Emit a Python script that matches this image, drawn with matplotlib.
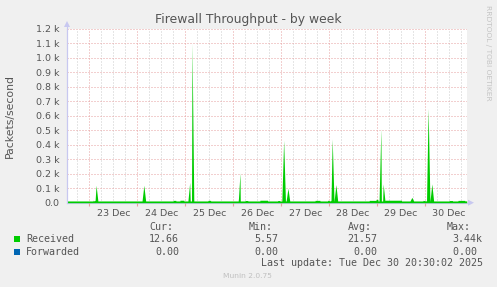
import matplotlib
matplotlib.use("Agg")
import matplotlib.pyplot as plt
from matplotlib.patches import Rectangle, Polygon
from matplotlib.lines import Line2D
import numpy as np

# ---- data (hours relative to 23 Dec 00:00) ----
x_start, x_end = -11.2, 188.8
baseline = 12.0
last_value = 12.66

spike_hours  = [3.35, 27.25, 50.2, 51.35, 74.6, 75.35, 97.2, 99.35, 121.5, 123.35,
                145.85, 147.0, 161.35, 169.5, 171.35]
spike_values = [120, 120, 140, 1100, 30, 205, 430, 100, 440, 125,
                510, 130, 37, 650, 130]

bump_start  = [1.85, 41.9, 45.3, 59.3, 77.9, 85.3, 94.2, 112.9, 119.2, 140.0, 143.4,
               147.9, 166.9, 180.0, 184.4]
bump_end    = [2.85, 43.3, 47.3, 60.7, 79.3, 89.2, 95.3, 115.4, 120.9, 143.4, 144.4,
               156.2, 168.7, 181.7, 187.9]
bump_values = [17, 16, 17, 16, 15, 17, 15, 16, 17, 16, 23, 17, 16, 15, 16]

day_labels = ["23 Dec", "24 Dec", "25 Dec", "26 Dec", "27 Dec", "28 Dec", "29 Dec", "30 Dec"]
y_ticks = [0, 100, 200, 300, 400, 500, 600, 700, 800, 900, 1000, 1100, 1200]
y_tick_labels = ["0.0", "0.1 k", "0.2 k", "0.3 k", "0.4 k", "0.5 k", "0.6 k", "0.7 k",
                 "0.8 k", "0.9 k", "1.0 k", "1.1 k", "1.2 k"]

legend_names = ["Received", "Forwarded"]
legend_colors = ["#00cc00", "#0066b3"]
cur_vals = ["12.66", "0.00"]
min_vals = ["5.57", "0.00"]
avg_vals = ["21.57", "0.00"]
max_vals = ["3.44k", "0.00 "]

# ---- build received polyline from the listed events ----
events = []
hw = 0.9
for h, v in zip(spike_hours, spike_values):
    events.append((h - hw, baseline)); events.append((h, v)); events.append((h + hw, baseline))
for s, e, v in zip(bump_start, bump_end, bump_values):
    events += [(s, baseline), (s + 0.05, v), (e - 0.05, v), (e, baseline)]
events.append((x_start, baseline)); events.append((x_end, last_value))
events.sort()
t = np.array([p[0] for p in events]); vals = np.array([p[1] for p in events])

W, H = 497, 287
fig = plt.figure(figsize=(W / 100, H / 100), dpi=100, facecolor="#f0f0f0")
def fx(x): return x / W
def fy(y): return 1 - y / H

L, R, T, B = 67, 466.7, 28.7, 202.7
ax = fig.add_axes([fx(L), fy(B), fx(R) - fx(L), fy(T) - fy(B)])
ax.set_facecolor("white")
ax.set_xlim(x_start, x_end)
ax.set_ylim(0, 1200)

red = "#e6a0a0"; gray = "#cccccc"
dot = (0, (1, 2))
for h in np.arange(-6, x_end, 6):
    if h % 24 == 0:
        continue
    ax.axvline(h, color=gray, lw=0.72, ls=dot, zorder=1)
for d in range(8):
    ax.axvline(d * 24, color=red, lw=0.72, ls=dot, zorder=1)
for yv in y_ticks[1:]:
    ax.axhline(yv, color=red, lw=0.72, ls=dot, zorder=1)

ax.fill_between(t, 0, vals, color="#00cc00", lw=0, zorder=3)

ax.set_xticks([d * 24 + 12 for d in range(8)])
ax.set_xticklabels(day_labels)
ax.set_yticks(y_ticks)
ax.set_yticklabels(y_tick_labels)
ax.set_xticks([d * 24 for d in range(8)], minor=True)
ax.tick_params(axis="x", which="major", length=0, pad=4.5, labelsize=6.8, labelcolor="#555555")
ax.tick_params(axis="x", which="minor", length=2, color=red, width=0.8)
ax.tick_params(axis="y", length=0, pad=5.5, labelsize=6.8, labelcolor="#555555")
for s in ["top", "right"]:
    ax.spines[s].set_visible(False)
for s in ["left", "bottom"]:
    ax.spines[s].set_color("#c8c8f0"); ax.spines[s].set_linewidth(0.8)
    ax.spines[s].set_zorder(0.5)

# axis arrows
ac = "#c8c8f0"
fig.add_artist(Line2D([fx(L), fx(L)], [fy(B), fy(24)], color=ac, lw=0.8))
fig.add_artist(Polygon([[fx(L - 3), fy(27)], [fx(L + 3), fy(27)], [fx(L), fy(21)]], closed=True, color=ac, lw=0))
fig.add_artist(Line2D([fx(R), fx(470)], [fy(B), fy(B)], color=ac, lw=0.8))
fig.add_artist(Polygon([[fx(468), fy(B - 3)], [fx(468), fy(B + 3)], [fx(474), fy(B)]], closed=True, color=ac, lw=0))

# texts
fig.text(fx(248.5), fy(19.3), "Firewall Throughput - by week", ha="center", va="center",
         fontsize=8.9, color="#555555")
fig.text(fx(10), fy(115.5), "Packets/second", rotation=90, ha="center", va="center",
         fontsize=7.8, color="#555555")
fig.text(fx(487.7), fy(53.3), "RRDTOOL / TOBI OETIKER", rotation=270, ha="center", va="center",
         fontsize=5.4, color="#c4c4c4")

mono = dict(family="DejaVu Sans Mono", fontsize=7.2, color="#555555", va="center")
for xh, lab in zip([149.3, 248.3, 347.7, 446.7], ["Cur:", "Min:", "Avg:", "Max:"]):
    fig.text(fx(xh), fy(227.3), lab, ha="left", **mono)
rows_y = [239.3, 251.7]
for i, yy in enumerate(rows_y):
    fig.add_artist(Rectangle((fx(14), fy(yy + 3)), fx(6), 6 / H, color=legend_colors[i], lw=0))
    fig.text(fx(26.3), fy(yy), legend_names[i], ha="left", **mono)
    for xr, col in zip([179, 278.3, 377.3, 482.7], [cur_vals, min_vals, avg_vals, max_vals]):
        fig.text(fx(xr), fy(yy), col[i], ha="right", **mono)
fig.text(fx(482.7), fy(263.3), "Last update: Tue Dec 30 20:30:02 2025", ha="right", **mono)
fig.text(fx(247.7), fy(276), "Munin 2.0.75", ha="center", va="center", fontsize=5.4, color="#c0c0c0")

fig.savefig("out.png", dpi=100, facecolor=fig.get_facecolor())
